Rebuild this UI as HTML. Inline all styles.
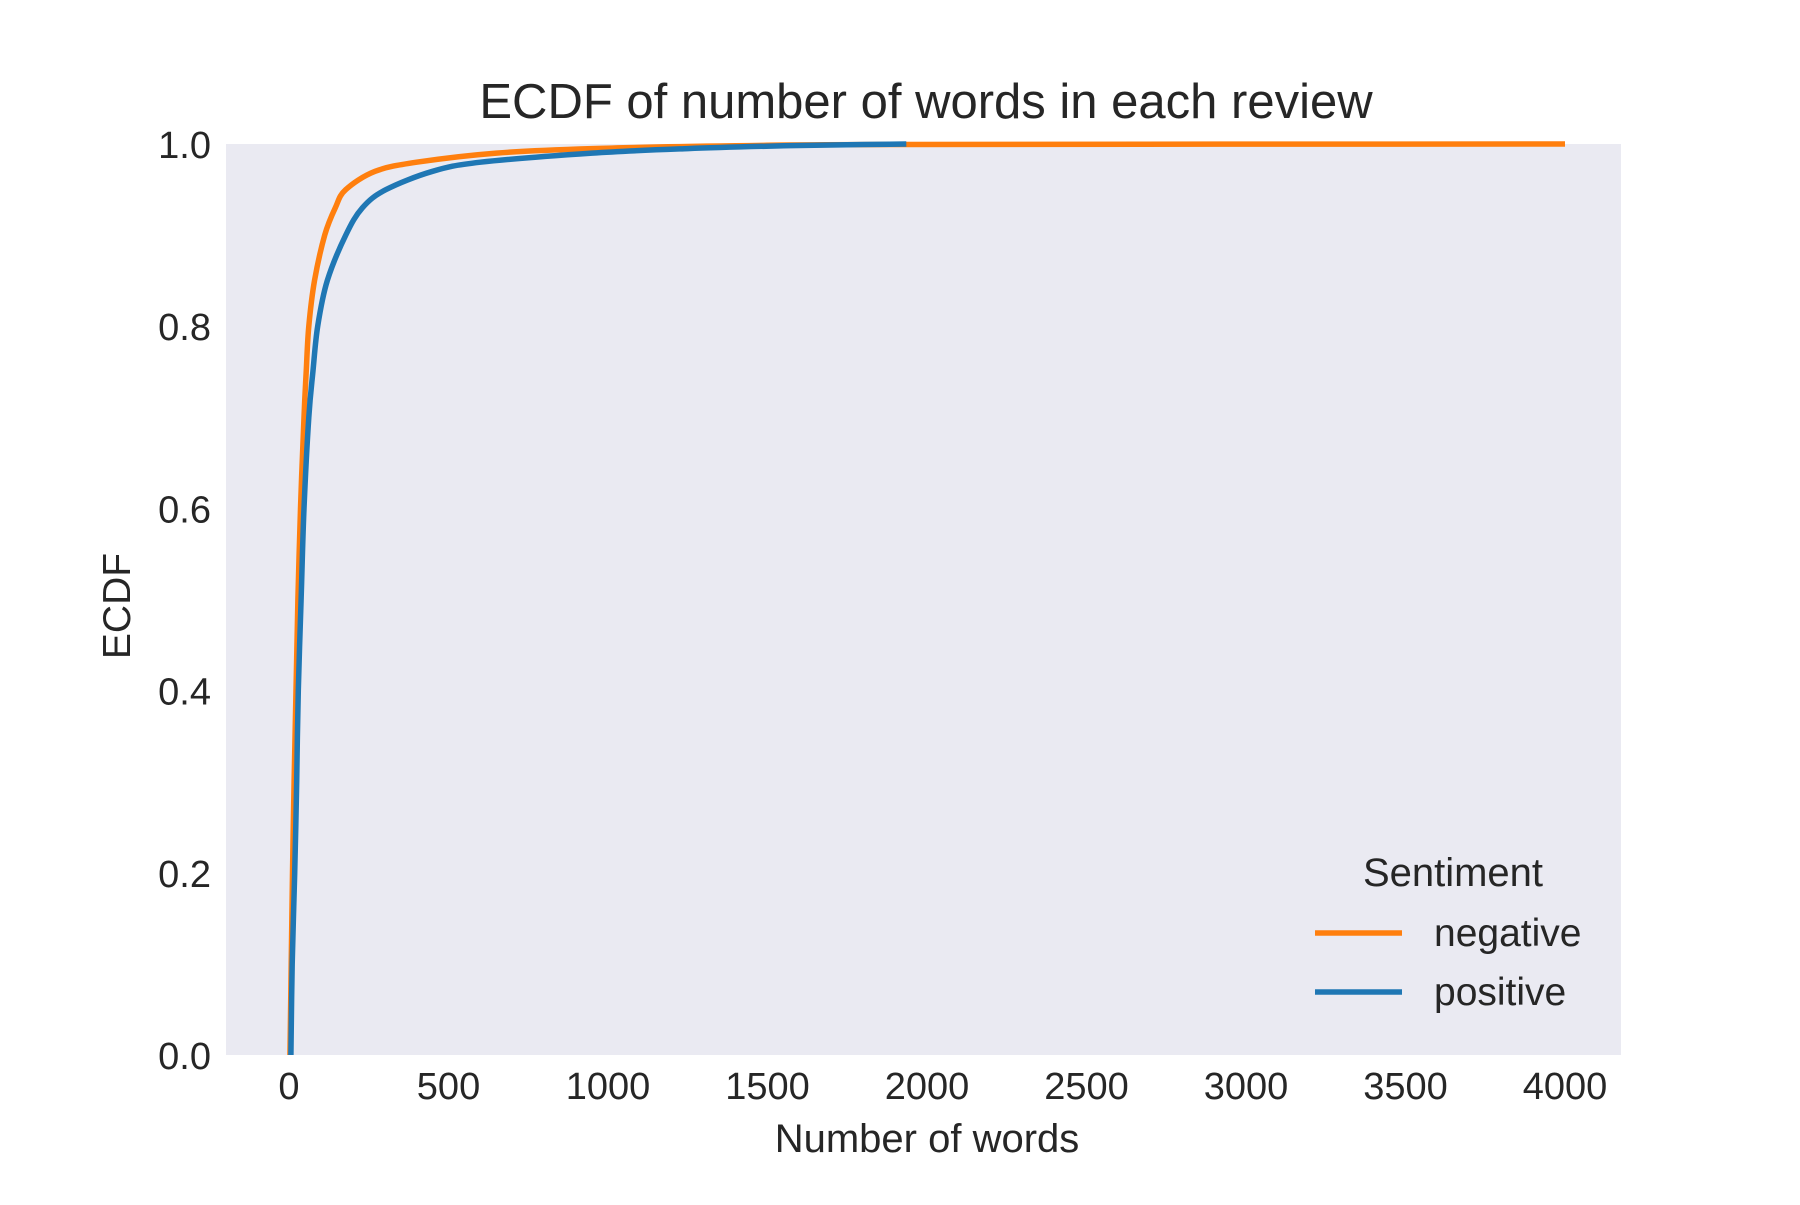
<!DOCTYPE html>
<html><head><meta charset="utf-8"><style>
body{margin:0;background:#fff}
svg text{font-family:"Liberation Sans",Arial,sans-serif;fill:#262626}
</style></head><body>
<svg id="chart" width="1800" height="1200" xmlns="http://www.w3.org/2000/svg">
<rect x="226" y="144" width="1395" height="911" fill="#eaeaf2"/>
<g id="series"></g>
<g id="xticks"></g>
<g id="yticks"></g>
<text x="926" y="118" font-size="49" text-anchor="middle">ECDF of number of words in each review</text>
<text x="927" y="1152" font-size="40" text-anchor="middle">Number of words</text>
<text transform="translate(130,606) rotate(-90)" font-size="39" text-anchor="middle">ECDF</text>
<g>
<text x="1453" y="886" font-size="40" text-anchor="middle">Sentiment</text>
<line x1="1315" y1="933" x2="1402" y2="933" stroke="#ff7f0e" stroke-width="5.5"/>
<text x="1434" y="946" font-size="39">negative</text>
<line x1="1315" y1="992" x2="1402" y2="992" stroke="#1f77b4" stroke-width="5.5"/>
<text x="1434" y="1005" font-size="39">positive</text>
</g>
</svg>
<script>
const probs = [0, 0.1, 0.2, 0.3, 0.4, 0.5, 0.6, 0.7, 0.75, 0.8, 0.85, 0.9, 0.93, 0.95, 0.97, 0.98, 0.99, 0.995, 0.998, 0.9995, 1.0];
const negativeWords = [3, 7, 11, 16, 22, 28, 36, 47, 54, 62, 80, 112, 145, 178, 270, 400, 650, 950, 1400, 1900, 4000];
const positiveWords = [6, 10, 18, 24, 29, 38, 47, 62, 75, 90, 120, 178, 230, 304, 450, 600, 950, 1250, 1550, 1800, 1935];
const xTicks = [0, 500, 1000, 1500, 2000, 2500, 3000, 3500, 4000];
const yTicks = [0.0, 0.2, 0.4, 0.6, 0.8, 1.0];
const NS = "http://www.w3.org/2000/svg";
const X0 = 289, XPER = 319/1000, YTOP = 144, YBOT = 1055;
function xs(v){ return X0 + v * XPER; }
function ys(p){ return YBOT - p * (YBOT - YTOP); }
function mk(tag, attrs){ const e = document.createElementNS(NS, tag); for (const k in attrs) e.setAttribute(k, attrs[k]); return e; }
function pathFor(words){
  const P = words.map((w,i) => [xs(w), ys(probs[i])]);
  let d = "M" + P[0][0] + "," + P[0][1];
  for (let i = 0; i < P.length - 1; i++){
    const p0 = P[Math.max(0,i-1)], p1 = P[i], p2 = P[i+1], p3 = P[Math.min(P.length-1,i+2)];
    const c1x = p1[0] + (p2[0]-p0[0])/6, c1y = p1[1] + (p2[1]-p0[1])/6;
    const c2x = p2[0] - (p3[0]-p1[0])/6, c2y = p2[1] - (p3[1]-p1[1])/6;
    d += " C" + c1x.toFixed(1) + "," + Math.min(YBOT, c1y).toFixed(1) + " " + c2x.toFixed(1) + "," + Math.max(YTOP, c2y).toFixed(1) + " " + p2[0].toFixed(1) + "," + p2[1].toFixed(1);
  }
  return d;
}
const g = document.getElementById("series");
const pn = mk("path", {d: pathFor(negativeWords), fill: "none", stroke: "#ff7f0e", "stroke-width": 5.5, "stroke-linejoin": "round"});


g.appendChild(pn);
const pp = mk("path", {d: pathFor(positiveWords), fill: "none", stroke: "#1f77b4", "stroke-width": 5.5, "stroke-linejoin": "round"});


g.appendChild(pp);
const xg = document.getElementById("xticks");
xTicks.forEach(v => {
  const t = mk("text", {x: xs(v), y: 1099, "font-size": 38, "text-anchor": "middle"});
  t.textContent = v;
  
  
  xg.appendChild(t);
});
const yg = document.getElementById("yticks");
yTicks.forEach(v => {
  const t = mk("text", {x: 211, y: ys(v) + 14, "font-size": 38, "text-anchor": "end"});
  t.textContent = v.toFixed(1);
  
  
  yg.appendChild(t);
});
</script>
</body></html>
